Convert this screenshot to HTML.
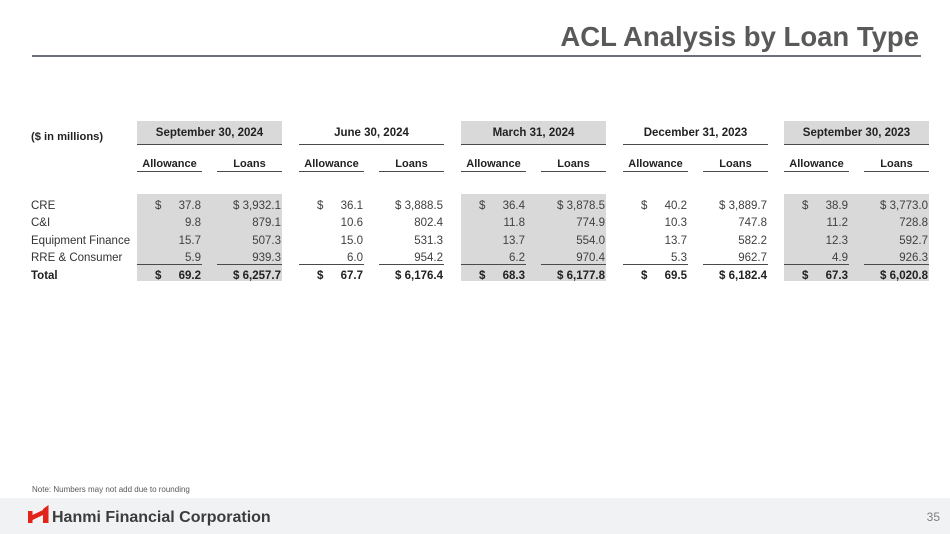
<!DOCTYPE html>
<html>
<head>
<meta charset="utf-8">
<style>
  html,body{margin:0;padding:0;}
  body{width:950px;height:534px;position:relative;overflow:hidden;background:#fff;font-family:"Liberation Sans",Arial,sans-serif;color:#333;}
  .abs{position:absolute;}
  .title{position:absolute;right:31px;top:23px;font-size:27.5px;line-height:27.5px;font-weight:bold;color:#595959;white-space:nowrap;}
  .rule{position:absolute;left:32px;top:55px;width:889px;height:2px;background:#6b7079;}
  .lbl{position:absolute;left:31px;font-size:11.5px;line-height:14px;height:14px;white-space:nowrap;color:#333;}
  .g{position:absolute;top:0;width:145px;height:300px;}
  .g .hb{position:absolute;left:0;top:121px;width:145px;height:23px;background:#d9d9d9;}
  .g .df{position:absolute;left:0;top:194px;width:145px;height:87px;background:#d9d9d9;}
  .g .hl{position:absolute;left:0;top:144px;width:145px;height:1px;background:#4a4a4a;}
  .g .ht{position:absolute;left:0;top:126px;width:145px;text-align:center;font-weight:bold;font-size:11.5px;line-height:14px;color:#222;white-space:nowrap;}
  .g .sh{position:absolute;top:157px;width:65px;text-align:center;font-weight:bold;font-size:11px;line-height:14px;color:#222;}
  .g .ul{position:absolute;height:1px;background:#4a4a4a;width:65px;}
  .g .d{position:absolute;font-size:11.5px;line-height:14px;height:14px;white-space:nowrap;color:#404040;}
  .g .a{left:0;width:64px;text-align:right;}
  .g .l{left:80px;width:64px;text-align:right;}
  .g .s{left:18px;}
  .g .b{font-weight:bold;color:#222;}
  .r1{top:198.5px;} .r2{top:216px;} .r3{top:233.5px;} .r4{top:251px;} .r5{top:268.5px;}
  .note{position:absolute;left:32px;top:485px;font-size:8px;line-height:10px;color:#595959;white-space:nowrap;}
  .foot{position:absolute;left:0;top:498px;width:950px;height:36px;background:#f1f2f4;}
  .brand{position:absolute;left:52px;top:509.5px;font-size:16px;line-height:16px;font-weight:bold;color:#3c3c3c;white-space:nowrap;letter-spacing:0px;}
  .pg{position:absolute;right:10px;top:511px;font-size:12px;line-height:12px;color:#7f7f7f;}
</style>
</head>
<body>
<div class="title">ACL Analysis by Loan Type</div>
<div class="rule"></div>

<div class="lbl" style="top:129.5px;font-weight:bold;font-size:11.2px;color:#222;">($ in millions)</div>
<div class="lbl r1">CRE</div>
<div class="lbl r2">C&amp;I</div>
<div class="lbl r3">Equipment Finance</div>
<div class="lbl r4">RRE &amp; Consumer</div>
<div class="lbl r5" style="font-weight:bold;color:#222;">Total</div>

<!-- Group 1 -->
<div class="g" style="left:137px;">
  <div class="hb"></div><div class="df"></div><div class="hl"></div>
  <div class="ht">September 30, 2024</div>
  <div class="sh" style="left:0;">Allowance</div><div class="sh" style="left:80px;">Loans</div>
  <div class="ul" style="left:0;top:171px;"></div><div class="ul" style="left:80px;top:171px;"></div>
  <div class="ul" style="left:0;top:264px;"></div><div class="ul" style="left:80px;top:264px;"></div>
  <div class="d s r1">$</div><div class="d a r1">37.8</div><div class="d l r1">$ 3,932.1</div>
  <div class="d a r2">9.8</div><div class="d l r2">879.1</div>
  <div class="d a r3">15.7</div><div class="d l r3">507.3</div>
  <div class="d a r4">5.9</div><div class="d l r4">939.3</div>
  <div class="d s r5 b">$</div><div class="d a r5 b">69.2</div><div class="d l r5 b">$ 6,257.7</div>
</div>

<!-- Group 2 -->
<div class="g" style="left:299px;">
  <div class="hl"></div>
  <div class="ht">June 30, 2024</div>
  <div class="sh" style="left:0;">Allowance</div><div class="sh" style="left:80px;">Loans</div>
  <div class="ul" style="left:0;top:171px;"></div><div class="ul" style="left:80px;top:171px;"></div>
  <div class="ul" style="left:0;top:264px;"></div><div class="ul" style="left:80px;top:264px;"></div>
  <div class="d s r1">$</div><div class="d a r1">36.1</div><div class="d l r1">$ 3,888.5</div>
  <div class="d a r2">10.6</div><div class="d l r2">802.4</div>
  <div class="d a r3">15.0</div><div class="d l r3">531.3</div>
  <div class="d a r4">6.0</div><div class="d l r4">954.2</div>
  <div class="d s r5 b">$</div><div class="d a r5 b">67.7</div><div class="d l r5 b">$ 6,176.4</div>
</div>

<!-- Group 3 -->
<div class="g" style="left:461px;">
  <div class="hb"></div><div class="df"></div><div class="hl"></div>
  <div class="ht">March 31, 2024</div>
  <div class="sh" style="left:0;">Allowance</div><div class="sh" style="left:80px;">Loans</div>
  <div class="ul" style="left:0;top:171px;"></div><div class="ul" style="left:80px;top:171px;"></div>
  <div class="ul" style="left:0;top:264px;"></div><div class="ul" style="left:80px;top:264px;"></div>
  <div class="d s r1">$</div><div class="d a r1">36.4</div><div class="d l r1">$ 3,878.5</div>
  <div class="d a r2">11.8</div><div class="d l r2">774.9</div>
  <div class="d a r3">13.7</div><div class="d l r3">554.0</div>
  <div class="d a r4">6.2</div><div class="d l r4">970.4</div>
  <div class="d s r5 b">$</div><div class="d a r5 b">68.3</div><div class="d l r5 b">$ 6,177.8</div>
</div>

<!-- Group 4 -->
<div class="g" style="left:623px;">
  <div class="hl"></div>
  <div class="ht">December 31, 2023</div>
  <div class="sh" style="left:0;">Allowance</div><div class="sh" style="left:80px;">Loans</div>
  <div class="ul" style="left:0;top:171px;"></div><div class="ul" style="left:80px;top:171px;"></div>
  <div class="ul" style="left:0;top:264px;"></div><div class="ul" style="left:80px;top:264px;"></div>
  <div class="d s r1">$</div><div class="d a r1">40.2</div><div class="d l r1">$ 3,889.7</div>
  <div class="d a r2">10.3</div><div class="d l r2">747.8</div>
  <div class="d a r3">13.7</div><div class="d l r3">582.2</div>
  <div class="d a r4">5.3</div><div class="d l r4">962.7</div>
  <div class="d s r5 b">$</div><div class="d a r5 b">69.5</div><div class="d l r5 b">$ 6,182.4</div>
</div>

<!-- Group 5 -->
<div class="g" style="left:784px;">
  <div class="hb"></div><div class="df"></div><div class="hl"></div>
  <div class="ht">September 30, 2023</div>
  <div class="sh" style="left:0;">Allowance</div><div class="sh" style="left:80px;">Loans</div>
  <div class="ul" style="left:0;top:171px;"></div><div class="ul" style="left:80px;top:171px;"></div>
  <div class="ul" style="left:0;top:264px;"></div><div class="ul" style="left:80px;top:264px;"></div>
  <div class="d s r1">$</div><div class="d a r1">38.9</div><div class="d l r1">$ 3,773.0</div>
  <div class="d a r2">11.2</div><div class="d l r2">728.8</div>
  <div class="d a r3">12.3</div><div class="d l r3">592.7</div>
  <div class="d a r4">4.9</div><div class="d l r4">926.3</div>
  <div class="d s r5 b">$</div><div class="d a r5 b">67.3</div><div class="d l r5 b">$ 6,020.8</div>
</div>

<div class="note">Note: Numbers may not add due to rounding</div>

<div class="foot"></div>
<svg class="abs" style="left:0;top:0;" width="950" height="534" viewBox="0 0 950 534">
  <polygon points="28,511 32.5,511 32.5,523 28,523" fill="#e2231a"/>
  <polygon points="32.5,515 43,510 43,515 32.5,520" fill="#e2231a"/>
  <polygon points="43,509 48.5,505 48.5,523 43,523" fill="#e2231a"/>
</svg>
<div class="brand">Hanmi Financial Corporation</div>
<div class="pg">35</div>
</body>
</html>
